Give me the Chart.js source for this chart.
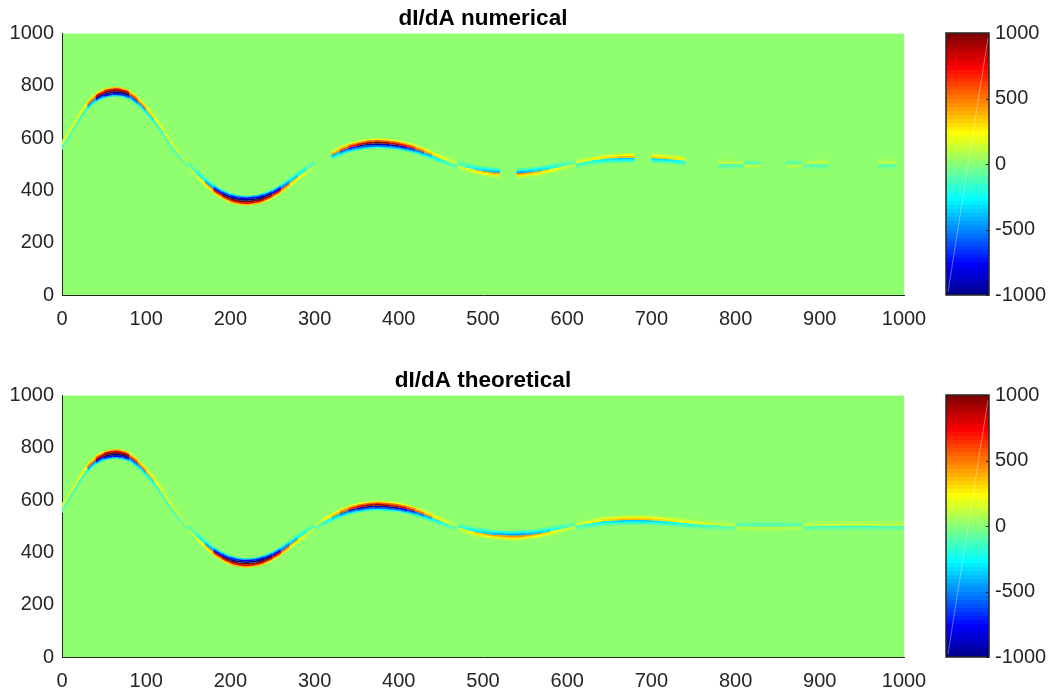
<!DOCTYPE html>
<html><head><meta charset="utf-8">
<script src="https://cdn.jsdelivr.net/npm/chart.js@4.4.1/dist/chart.umd.min.js"></script>
<style>
html,body{margin:0;padding:0;background:#fff;width:1049px;height:693px;overflow:hidden;}
canvas{position:absolute;}
</style></head><body>
<canvas id="top" width="940" height="362" style="left:0px;top:0px"></canvas>
<canvas id="topcb" width="109" height="362" style="left:940px;top:0px"></canvas>
<canvas id="bot" width="940" height="331" style="left:0px;top:362px"></canvas>
<canvas id="botcb" width="109" height="331" style="left:940px;top:362px"></canvas>
<script>
// ---- data ----
const positions = [0,10,20,30,40,50,60,70,80,90,100,110,120,130,140,150,160,170,180,190,200,210,220,230,240,250,260,270,280,290,300,310,320,330,340,350,360,370,380,390,400,410,420,430,440,450,460,470,480,490,500,510,520,530,540,550,560,570,580,590,600,610,620,630,640,650,660,670,680,690,700,710,720,730,740,750,760,770,780,790,800,810,820,830,840,850,860,870,880,890,900,910,920,930,940,950,960,970,980,990,1000];
const theoretical = [568,622,675,722,752,770,777,776,765,740,708,670,625,575,533,495,462,432,405,385,370,362,360,363,372,386,405,428,452,475,497,517,534,549,561,570,576,579,579,576,572,565,556,545,533,520,508,497,487,479,473,469,467,465,465,467,470,475,481,488,495,502,508,514,518,521,523,524,524,524,523,521,519,516,513,510,507,505,503,501,500,499,498,498,498,498,499,499,500,501,502,502,503,503,503,503,503,502,502,502,502];
const numerical = [572,625,678,724,754,771,778,777,766,741,709,671,626,576,534,496,463,433,406,386,371,363,361,364,373,387,406,429,453,476,498,null,535,550,562,571,577,580,580,577,573,566,557,546,534,521,509,498,488,480,474,470,468,null,466,468,471,476,482,489,496,503,509,515,519,522,524,525,525,null,524,522,520,517,514,null,null,null,503,502,501,500,499,499,null,null,499,499,500,501,502,502,null,null,null,null,null,502,502,502,null];
const xTicks = [0,100,200,300,400,500,600,700,800,900,1000];
const yTicks = [0,200,400,600,800,1000];
const cbTicks = [-1000,-500,0,500,1000];
const colorLimits = [-1000,1000];
const titles = ['dI/dA numerical','dI/dA theoretical'];

const FONT = "'Liberation Sans', Arial, Helvetica, sans-serif";
const AXIS = '#262626';

function jetRow(k){ // MATLAB jet(64), k = 0..63
  const s=(k+1)/64;
  const f=c=>Math.max(0,Math.min(1,1.5-Math.abs(4*s-c)));
  return 'rgb('+Math.round(f(3)*255)+','+Math.round(f(2)*255)+','+Math.round(f(1)*255)+')';
}
function jet(t){ // t in [-1,1]
  t=Math.max(-1,Math.min(1,t));
  const k=Math.min(63,Math.floor((t+1)/2*64));
  return jetRow(k);
}
const BG = jet(0);

// band styling: vertical pixel offset and relative weight of each layer
const layers=[{off:-0.85,w:1.0},{off:0.85,w:1.0},{off:-2.4,w:0.62},{off:2.4,w:0.62},{off:-3.9,w:0.28},{off:3.9,w:0.28}];

function segColor(off,w){
  return ctx=>{
    const p0=ctx.p0,p1=ctx.p1;
    const ym=(p0.parsed.y+p1.parsed.y)/2;
    const d=Math.abs(ym-500);
    const dx=p1.x-p0.x,dy=p1.y-p0.y;
    const c=Math.abs(dx)/Math.max(1e-6,Math.hypot(dx,dy));
    const v=Math.min(1.25,0.1+d/95)*Math.pow(c,3);
    const sgn=(off<0?1:-1)*(ym>=500?1:-1);
    return jet(sgn*w*v);
  };
}

const offsetPlugin={
  id:'offsetPlugin',
  beforeDraw(chart){
    const a=chart.chartArea,ctx=chart.ctx;
    ctx.save();ctx.fillStyle=BG;ctx.fillRect(a.left,a.top,a.right-a.left,a.bottom-a.top);ctx.restore();
  },
  beforeDatasetDraw(chart,args){
    const ds=chart.data.datasets[args.index];
    chart.ctx.save();chart.ctx.translate(0,ds.yOffsetPx||0);
  },
  afterDatasetDraw(chart){chart.ctx.restore();}
};

function makeMain(id,H,title,series){
  const pts=positions.map((x,i)=>({x:x,y:series[i]}));
  const datasets=layers.map(L=>({
    data:pts, yOffsetPx:L.off, borderWidth:1.7, borderColor:BG, pointRadius:0,
    fill:false, tension:0.35, borderCapStyle:'butt', spanGaps:false,
    segment:{borderColor:segColor(L.off,L.w)}
  }));
  const tickFont={family:FONT,size:20};
  return new Chart(document.getElementById(id),{
    type:'line',
    data:{datasets:datasets},
    plugins:[offsetPlugin],
    options:{
      responsive:false,animation:false,devicePixelRatio:1,
      layout:{padding:{left:0,right:36,top:0,bottom:0}},
      plugins:{legend:{display:false},tooltip:{enabled:false},
        title:{display:true,text:title,fullSize:false,color:'#000',
          font:{family:FONT,size:22.5,weight:'bold'},padding:{top:5,bottom:1.6}}},
      scales:{
        x:{type:'linear',min:0,max:1000,
          afterBuildTicks:s=>{s.ticks=xTicks.map(v=>({value:v}));},
          ticks:{font:tickFont,color:AXIS,padding:12,autoSkip:false,maxRotation:0,callback:v=>String(v)},
          grid:{display:false,drawTicks:false},border:{display:true,color:AXIS,width:1},
          afterFit:s=>{s.height=H-295;}},
        y:{type:'linear',min:0,max:1000,
          afterBuildTicks:s=>{s.ticks=yTicks.map(v=>({value:v}));},
          ticks:{font:tickFont,color:AXIS,padding:8,autoSkip:false,callback:v=>String(v)},
          grid:{display:false,drawTicks:false},border:{display:true,color:AXIS,width:1},
          afterFit:s=>{s.width=62;}}
      }
    }
  });
}

const cbPlugin={
  id:'cbPlugin',
  afterDatasetsDraw(chart){
    const a=chart.chartArea,ctx=chart.ctx,ys=chart.scales.y;
    ctx.save();
    ctx.strokeStyle='rgba(255,255,255,0.45)';ctx.lineWidth=0.8;
    ctx.beginPath();ctx.moveTo(a.left+2,a.bottom-3);ctx.lineTo(a.right-1,a.top+5);ctx.stroke();
    ctx.strokeStyle=AXIS;ctx.lineWidth=1;
    cbTicks.forEach(v=>{const y=Math.round(ys.getPixelForValue(v))+0.5;
      ctx.beginPath();ctx.moveTo(a.right-3,y);ctx.lineTo(a.right,y);ctx.stroke();});
    ctx.lineWidth=1.5;ctx.strokeStyle=AXIS;
    ctx.strokeRect(a.left,a.top,a.right-a.left,a.bottom-a.top);
    ctx.restore();
  }
};

function makeCB(id,H){
  return new Chart(document.getElementById(id),{
    type:'bar',
    data:{labels:['c'],datasets:[{data:[[colorLimits[0],colorLimits[1]]],borderWidth:0,
      barPercentage:1,categoryPercentage:1,
      backgroundColor:ctx=>{
        const a=ctx.chart.chartArea; if(!a) return BG;
        const g=ctx.chart.ctx.createLinearGradient(0,a.bottom,0,a.top);
        for(let k=0;k<64;k++){const c=jetRow(k);g.addColorStop(k/64,c);g.addColorStop(Math.min(1,(k+1)/64-1e-6),c);}
        return g;
      }}]},
    plugins:[cbPlugin],
    options:{
      responsive:false,animation:false,devicePixelRatio:1,
      layout:{padding:{left:6,right:0,top:33,bottom:H-295}},
      plugins:{legend:{display:false},tooltip:{enabled:false}},
      scales:{
        x:{display:false},
        y:{position:'right',min:colorLimits[0],max:colorLimits[1],
          afterBuildTicks:s=>{s.ticks=cbTicks.map(v=>({value:v}));},
          ticks:{font:{family:FONT,size:20},color:AXIS,padding:6,autoSkip:false,callback:v=>String(v)},
          grid:{display:false,drawTicks:false},border:{display:false},
          afterFit:s=>{s.width=60;}}
      }
    }
  });
}

makeMain('top',362,titles[0],numerical);
makeCB('topcb',362);
makeMain('bot',331,titles[1],theoretical);
makeCB('botcb',331);
</script>
</body></html>
